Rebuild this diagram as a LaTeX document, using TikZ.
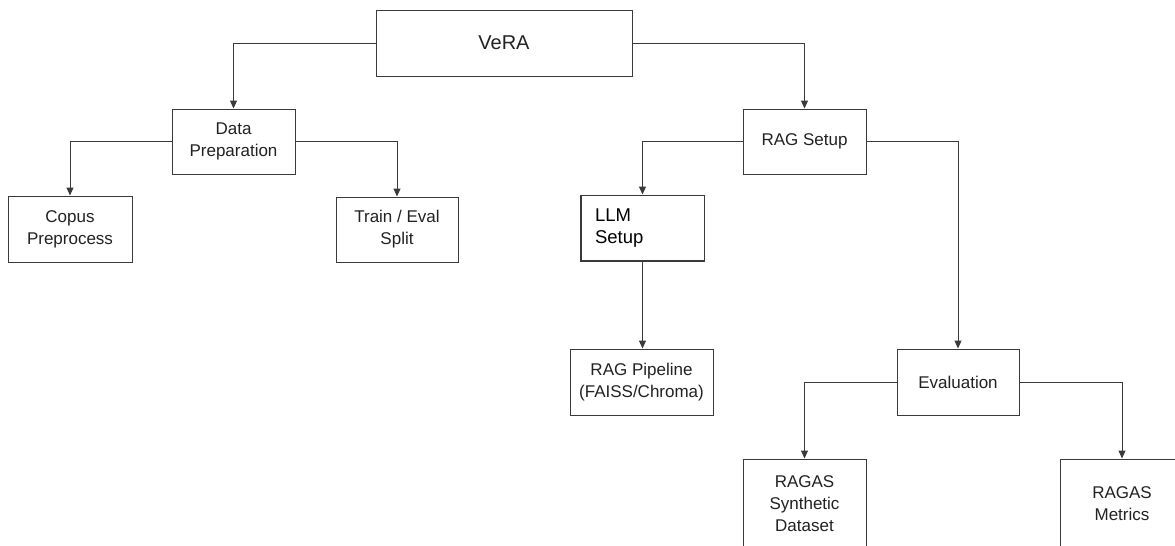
\documentclass[tikz,border=0pt]{standalone}
\usepackage{fontspec}
\setmainfont{Liberation Sans}
\usetikzlibrary{arrows.meta}
\definecolor{ln}{HTML}{3A3A3A}
\definecolor{tx}{HTML}{222222}
\tikzset{
  box/.style={draw=ln, line width=1pt, inner sep=0pt, align=center, text=tx,
    font=\fontsize{17}{22}\selectfont},
  arr/.style={draw=ln, line width=1pt, -{Triangle[length=8pt,width=7pt]}},
}
\begin{document}
\begin{tikzpicture}[x=1pt,y=-1pt]
\clip (0,0) rectangle (1175,546);
\fill[white] (0,0) rectangle (1175,546);
\node[box, minimum width=256pt, minimum height=66pt, font=\fontsize{20}{24}\selectfont] (vera) at (504,43) {VeRA};
\node[box, minimum width=123pt, minimum height=65pt] (dp) at (233.5,141.5) {Data\\Preparation};
\node[box, minimum width=124pt, minimum height=66pt] (cp) at (70,229) {Copus\\Preprocess};
\node[box, minimum width=122pt, minimum height=65pt] (te) at (397,229.5) {Train / Eval\\Split};
\node[box, minimum width=123pt, minimum height=65pt] (rs) at (804.5,141.5) {RAG Setup};
\node[box, minimum width=123pt, minimum height=66pt, text width=95pt, inner xsep=14pt, align=left, text=black, font=\fontsize{18.5}{22}\selectfont] (llm) at (642.5,228) {\raisebox{-4pt}{\parbox{95pt}{LLM\\Setup}}};
\draw[ln, line width=2pt] ([xshift=0.5pt]llm.north west) -- ([xshift=0.5pt,yshift=0.5pt]llm.south west) -- ([yshift=0.5pt]llm.south east);
\node[box, minimum width=143pt, minimum height=66pt] (rp) at (641.5,382) {RAG Pipeline\\(FAISS/Chroma)};
\node[box, minimum width=122pt, minimum height=66pt] (ev) at (958,382) {Evaluation};
\node[box, minimum width=123pt, minimum height=90pt] (sd) at (804.5,504) {RAGAS\\Synthetic\\Dataset};
\node[box, minimum width=124pt, minimum height=90pt] (mt) at (1122,504) {RAGAS\\Metrics};
\draw[arr] (vera.west) -| (dp.north);
\draw[arr] (vera.east) -| (rs.north);
\draw[arr] (dp.west) -| (cp.north);
\draw[arr] (dp.east) -| (te.north);
\draw[arr] (rs.west) -| (llm.north);
\draw[arr] (rs.east) -| (ev.north);
\draw[arr] (llm.south) -- (llm.south |- rp.north);
\draw[arr] (ev.west) -| (sd.north);
\draw[arr] (ev.east) -| (mt.north);
\end{tikzpicture}
\end{document}
